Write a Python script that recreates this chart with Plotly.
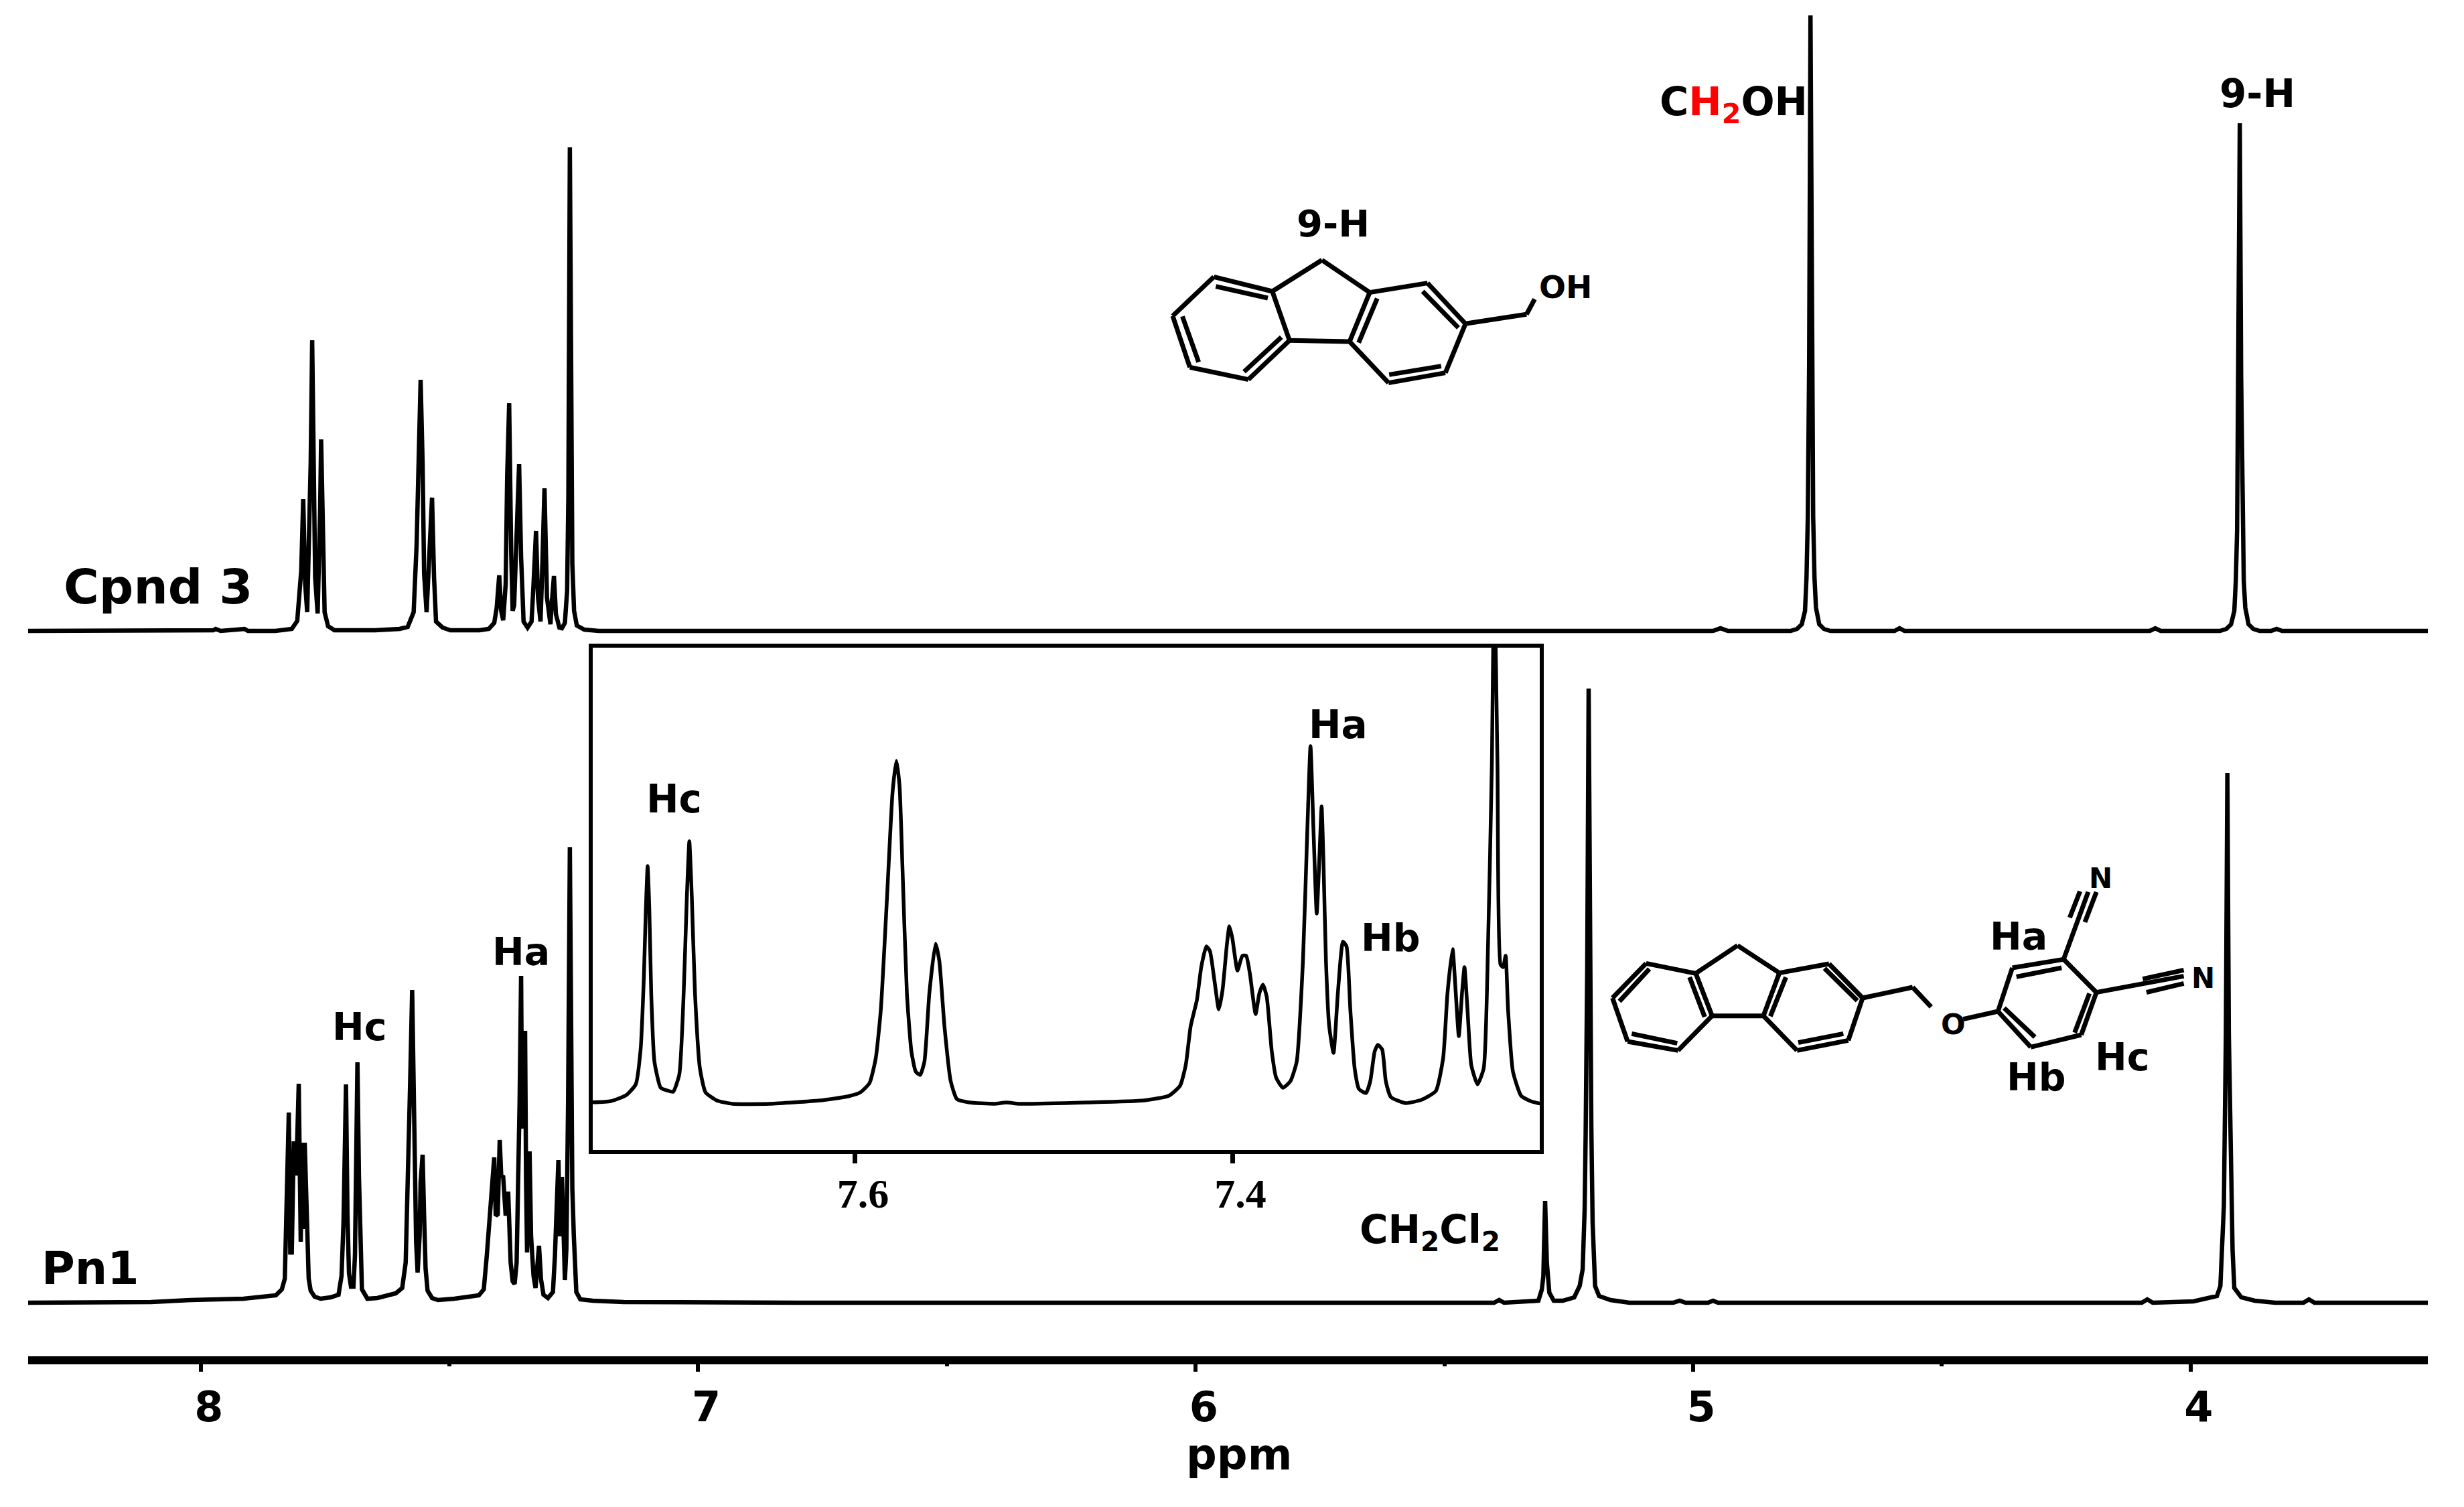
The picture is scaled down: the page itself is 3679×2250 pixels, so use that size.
import plotly.graph_objects as go

W, H = 3679, 2250

# ---------- chart data ----------
cpnd_ppm = [8.347,8.10,7.975,7.97,7.96,7.912,7.905,7.85,7.817,7.806,7.798,7.794,7.790,7.786,7.781,7.779,7.776,7.773,7.770,7.765,7.762,7.760,7.758,7.755,7.752,7.751,7.744,7.731,
 7.65,7.600,7.584,7.572,7.566,7.562,7.558,7.554,7.551,7.546,7.542,7.535,7.531,7.527,7.514,7.498,7.44,
 7.421,7.410,7.405,7.400,7.396,7.392,7.387,7.384,7.380,7.376,7.373,7.370,7.366,7.360,7.356,7.351,7.343,7.335,7.331,7.326,7.322,7.317,7.314,7.309,7.304,7.297,7.295,7.290,7.286,7.279,7.274,7.268,7.2635,7.261,7.258,7.255,7.253,7.2495,7.244,7.229,7.20,
 7.0,5.5,4.96,4.945,4.93,4.85,4.804,4.791,4.7815,4.775,4.772,4.7694,4.7667,4.764,4.7613,4.7586,4.756,4.753,4.7465,4.737,4.724,4.65,4.595,4.585,4.575,4.3,
 4.082,4.071,4.06,3.98,3.941,3.928,3.9185,3.912,3.909,3.9064,3.9037,3.901,3.8983,3.8956,3.893,3.89,3.8835,3.874,3.861,3.838,3.827,3.816,3.523]
cpnd_int = [0,0,1,3,0,3,0,0,3,15,90,197,70,28,150,250,434,220,80,26,100,180,286,130,50,28,7,1,
 1,3,6,28,130,290,375,250,86,28,90,199,80,14,5,1,1,
 3,12,35,83,30,16,70,230,340,120,30,38,110,249,110,14,5,14,70,149,50,14,80,213,50,10,35,82,25,5,4,12,60,200,722,300,100,30,8,2,0,
 0,0,0,4,0,0,0,3,10,30,80,170,400,919,400,170,80,35,10,3,0,0,0,4,0,0,
 0,4,0,0,0,3,10,30,75,150,380,758,380,150,75,35,10,3,0,0,3,0,0]

pn1_ppm = [8.347,8.10,8.02,7.914,7.849,7.837,7.831,7.828,7.825,7.823,7.820,7.817,7.813,7.808,7.803,7.799,7.796,7.793,7.791,7.787,7.783,7.779,7.771,7.759,7.739,7.723,7.717,7.713,7.7105,7.708,7.705,7.702,7.698,7.693,7.690,7.688,7.685,7.682,7.679,7.676,7.665,7.645,7.608,7.595,7.588,7.583,7.579,7.575,7.572,7.5695,7.567,7.564,7.560,7.558,7.554,7.551,7.548,7.544,7.535,7.523,
 7.49,7.441,7.431,7.425,7.418,7.413,7.410,7.407,7.403,7.399,7.396,7.392,7.387,7.382,7.377,7.373,7.369,7.365,7.362,7.359,7.356,7.354,7.351,7.348,7.346,7.344,7.342,7.339,7.336,7.331,7.327,7.320,7.316,7.311,7.302,7.292,7.288,7.284,7.281,7.278,7.274,7.270,7.268,7.265,7.2615,7.258,7.255,7.253,7.250,7.245,7.237,7.212,7.15,
 6.8,5.8,5.40,5.390,5.38,5.311,5.304,5.301,5.2975,5.294,5.291,5.289,5.280,5.262,5.239,5.228,5.222,5.218,5.216,5.2128,5.210,5.2073,5.2046,5.202,5.199,5.197,5.189,5.166,5.128,5.04,5.027,5.015,4.97,4.96,4.95,4.4,
 4.098,4.087,4.076,3.994,3.974,3.947,3.940,3.936,3.933,3.929,3.926,3.923,3.9185,3.9155,3.912,3.898,3.871,3.83,3.773,3.762,3.751,3.523]
pn1_int = [0,1,4,6,11,20,36,130,210,284,75,75,241,190,327,91,239,110,239,100,36,18,9,6,8,12,40,120,220,326,130,44,24,24,70,190,359,190,80,20,6,7,14,22,60,190,330,467,280,170,90,45,100,180,221,130,51,18,7,4,
 6,11,20,70,150,205,217,130,132,243,190,188,130,166,60,32,28,60,150,300,488,260,300,406,180,75,130,226,100,40,22,85,35,12,7,16,70,150,213,99,188,90,34,80,300,680,280,170,100,16,5,3,1,
 0,0,0,4,0,3,20,40,152,60,40,15,3,3,8,25,50,140,250,500,917,500,265,120,55,25,10,4,0,0,3,0,0,3,0,0,
 0,5,0,2,5,10,25,78,145,400,791,400,145,78,22,8,3,0,0,5,0,0]

inset_ppm = [7.7403,7.7294,7.7212,7.7162,7.7136,7.7119,7.7109,7.7099,7.709,7.708,7.7063,7.703,7.6997,7.6964,7.6931,7.6908,7.6891,7.6878,7.6865,7.6848,7.6822,7.6792,7.6733,7.665,7.6452,7.6187,7.6039,7.5972,7.5923,7.589,7.5863,7.583,7.5801,7.5781,7.5764,7.5748,7.5725,7.5701,7.5678,7.5655,7.5632,7.5606,7.5573,7.5553,7.5526,7.5493,7.546,7.5394,7.5262,7.5196,7.513,7.4766,7.4469,7.4337,7.4277,7.4247,7.4221,7.4188,7.4165,7.4138,7.4119,7.4095,7.4072,7.4052,7.4029,7.4016,7.4,7.3973,7.3947,7.3927,7.3907,7.3877,7.3857,7.3838,7.3818,7.3791,7.3768,7.3732,7.3692,7.3659,7.3626,7.3603,7.3586,7.357,7.3553,7.354,7.3527,7.3517,7.3504,7.3487,7.3464,7.3441,7.3414,7.3395,7.3375,7.3352,7.3329,7.3292,7.3269,7.3246,7.3229,7.3206,7.3187,7.316,7.3081,7.2998,7.2922,7.2883,7.286,7.2833,7.2816,7.28,7.2783,7.277,7.2754,7.2734,7.2701,7.2668,7.2645,7.2625,7.2612,7.2595,7.2579,7.2565,7.2552,7.2539,7.2513,7.247,7.242,7.2364]
inset_int = [2,4,13,29,82,189,286,355,291,165,63,24,20,18,44,165,310,392,310,165,53,17,5,0,0,5,11,17,31,68,141,310,465,512,475,349,165,78,48,43,63,165,239,213,116,34,7,2,0,2,0,2,5,12,27,58,116,155,204,235,228,184,141,170,238,265,247,199,221,221,194,134,165,178,160,78,39,24,34,63,213,407,534,407,284,359,444,359,213,116,76,165,242,235,141,53,22,16,34,78,88,81,34,10,1,6,19,68,165,231,165,101,165,204,141,58,29,53,238,504,800,504,208,204,221,141,48,12,4,0]

main_ticks = [8, 7, 6, 5, 4]
inset_ticks = [7.6, 7.4]
BLACK = "#000000"
SANS = "DejaVu Sans"

# ---------- pixel helpers for the page layout ----------
def fx(p): return p / W
def fy(p): return 1 - p / H

fig = go.Figure()
LINE = dict(color=BLACK, width=6.5)
fig.add_trace(go.Scatter(x=pn1_ppm, y=pn1_int, mode="lines", line=LINE, name="Pn1", xaxis="x", yaxis="y"))
fig.add_trace(go.Scatter(x=cpnd_ppm, y=cpnd_int, mode="lines", line=LINE, name="Cpnd 3", xaxis="x2", yaxis="y2"))
fig.add_trace(go.Scatter(x=inset_ppm, y=inset_int, mode="lines", line=dict(color=BLACK, width=5.5, shape="spline", smoothing=0.5),
                         name="inset", xaxis="x3", yaxis="y3"))

main_range = [8.347, 3.523]
hidden = dict(visible=False, fixedrange=True)
fig.update_layout(
    width=W, height=H, autosize=False, showlegend=False,
    margin=dict(l=0, r=0, t=0, b=0), paper_bgcolor="white", plot_bgcolor="rgba(0,0,0,0)",
    hovermode=False,
    xaxis=dict(domain=[fx(42), fx(3625)], range=main_range, anchor="y", showline=True, linecolor=BLACK, linewidth=12,
               showgrid=False, zeroline=False, ticks="outside", ticklen=11, tickwidth=6, tickcolor=BLACK,
               tickvals=main_ticks, ticktext=[str(t) for t in main_ticks], ticklabelshift=-12, ticklabelstandoff=0,
               minor=dict(dtick=0.5, ticks="outside", ticklen=3, tickwidth=6, tickcolor=BLACK, showgrid=False),
               tickfont=dict(family=SANS, size=62, color=BLACK, weight=700)),
    yaxis=dict(domain=[fy(2025), fy(1000)], range=[-80, 945], **hidden),
    xaxis2=dict(domain=[fx(42), fx(3625)], range=main_range, anchor="y2", **hidden),
    yaxis2=dict(domain=[fy(1000), 1], range=[-58, 942], **hidden),
    xaxis3=dict(domain=[fx(885), fx(2299)], range=[7.739, 7.2371], anchor="y3", showline=True, mirror=True, linecolor=BLACK, linewidth=6,
                showgrid=False, zeroline=False, ticks="outside", ticklen=14, tickwidth=7, tickcolor=BLACK,
                tickvals=inset_ticks, ticktext=[f"{t:.1f}" for t in inset_ticks], ticklabelshift=-12, ticklabelstandoff=-8,
                tickfont=dict(family="Liberation Serif", size=62, color=BLACK, weight=700)),
    yaxis3=dict(domain=[fy(1717), fy(967)], range=[-69, 681], anchor="x3", showline=True, mirror=True, linecolor=BLACK, linewidth=6,
                showgrid=False, zeroline=False, showticklabels=False, ticks=""),
)

# ---------- text labels ----------
def label(text, x, y, size, color=BLACK):
    fig.add_annotation(text=text, x=fx(x), y=fy(y), xref="paper", yref="paper", showarrow=False,
                       xanchor="center", yanchor="middle", borderpad=0,
                       font=dict(family=SANS, size=size, color=color, weight=700))

label("Cpnd 3", 236, 876, 72)
label("Pn1", 135, 1893, 68)
label("Hc", 537, 1533, 57)
label("Ha", 778, 1421, 57)
label("Hc", 1007, 1193, 58)
label("Ha", 1998, 1082, 58)
label("Hb", 2076, 1400, 57)
label("9-H", 1991, 333, 56)
label("9-H", 3370, 140, 58)
label("OH", 2337, 429, 47)
label("CH<sub>2</sub>Cl<sub>2</sub>", 2135, 1840, 58)
label("C<span style='color:#ff0000'>H<sub>2</sub></span>OH", 2588, 155, 59)
label("ppm", 1850, 2172, 64)
label("N", 3136, 1311, 42)
label("N", 3289, 1460, 42)
label("O", 2916, 1529, 43)
label("Ha", 3014, 1398, 57)
label("Hb", 3040, 1608, 57)
label("Hc", 3169, 1578, 57)

# ---------- the two structural formulae, drawn as line art ----------
def bonds(segs, sx, ox, sy, oy, width=7):
    for x0, y0, x1, y1 in segs:
        fig.add_shape(type="line", xref="paper", yref="paper",
                      x0=fx(x0 / sx + ox), y0=fy(y0 / sy + oy), x1=fx(x1 / sx + ox), y1=fy(y1 / sy + oy),
                      line=dict(color=BLACK, width=width))

mol_a = [(232,400,412,465),(412,465,465,685),(465,685,338,860),(338,860,158,805),(158,805,105,575),(105,575,232,400),
         (238,443,398,495),(440,670,325,825),(185,782,135,577),
         (412,465,565,325),(565,325,712,470),(712,470,650,690),(650,690,465,685),
         (712,470,890,428),(890,428,1007,610),(1007,610,945,830),(945,830,770,875),(770,875,650,690),
         (735,497,678,695),(875,465,985,628),(932,800,772,838),
         (1007,610,1195,568),(1195,568,1220,500)]
bonds(mol_a, 2.063, 1700, 3, 280)

mol_b = [(127,535,248,580),(248,580,288,770),(288,770,205,925),(205,925,82,885),(82,885,45,690),(45,690,127,535),
         (135,560,62,705),(233,597,270,775),(203,893,92,850),
         (248,580,350,455),(350,455,452,578),(452,578,413,770),(413,770,288,770),
         (452,578,573,537),(573,537,655,690),(655,690,620,880),(620,880,495,925),(495,925,413,770),
         (468,597,430,772),(562,557,642,702),(608,850,498,890),
         (655,690,777,642),(777,642,822,730),(900,785,985,750),
         (985,750,1020,555),(1020,555,1145,517),(1145,517,1225,665),(1225,665,1188,855),(1188,855,1065,910),(1065,910,985,750),
         (1030,595,1140,555),(1208,670,1172,845),(1075,865,1000,735),
         (1145,517,1205,215),(1160,330,1185,212),(1197,350,1225,215),
         (1225,665,1438,592),(1338,605,1438,565),(1347,665,1438,625)]
bonds(mol_b, 1.633, 2380, 3, 1260)

fig.write_html("out.html", config={"displayModeBar": False},
               post_script="document.body.style.margin='0';document.body.style.overflow='hidden';")
